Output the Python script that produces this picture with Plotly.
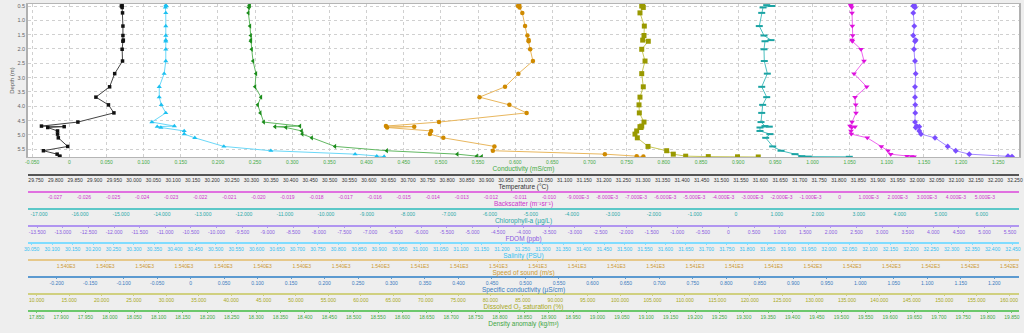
import plotly.graph_objects as go

# ---------------- data ----------------
DEPTH_M = [0.47, 0.50, 0.55, 0.74, 1.20, 1.53, 1.69, 1.73, 2.01, 2.42, 2.86, 3.32, 3.68,
           3.95, 4.23, 4.55, 4.69, 4.71, 4.74, 4.86, 4.97, 5.10, 5.40, 5.55, 5.67, 5.74]
BOTTOM_DEPTH_M = [5.755, 5.762, 5.768]

TEMPERATURE_C = [29.970, 29.968, 29.970, 29.971, 29.972, 29.972, 29.973, 29.972, 29.970, 29.971,
                 29.951, 29.938, 29.903, 29.935, 29.949, 29.857, 29.764, 29.822, 29.780, 29.805,
                 29.805, 29.807, 29.831, 29.769, 29.804, 29.811]
TEMPERATURE_BOTTOM = [29.810]

SALINITY_PSU = [30.378, 30.379, 30.377, 30.378, 30.378, 30.378, 30.378, 30.378, 30.378, 30.378,
                30.374, 30.362, 30.362, 30.367, 30.378, 30.344, 30.399, 30.357, 30.366, 30.423,
                30.423, 30.449, 30.520, 30.635, 30.841, 30.894]
SALINITY_BOTTOM = [30.912]

CONDUCTIVITY_MS_CM = [0.2422, 0.2427, 0.2414, 0.2409, 0.2431, 0.2441, 0.2445, 0.2441, 0.2454, 0.2472,
                      0.2512, 0.2499, 0.2579, 0.2535, 0.2570, 0.2616, 0.3104, 0.2768, 0.2916, 0.3127,
                      0.3135, 0.3262, 0.3575, 0.4271, 0.5221, 0.5482]
CONDUCTIVITY_BOTTOM = [0.5549]

SPEED_OF_SOUND = [1540.753, 1540.750, 1540.754, 1540.761, 1540.768, 1540.774, 1540.777, 1540.777,
                  1540.781, 1540.788, 1540.751, 1540.717, 1540.652, 1540.728, 1540.772, 1540.549,
                  1540.414, 1540.486, 1540.417, 1540.529, 1540.526, 1540.560, 1540.690, 1540.686,
                  1540.971, 1541.052]
SPEED_BOTTOM = [1541.069]

DO_SATURATION = [103.49, 103.34, 103.58, 103.07, 103.74, 103.69, 103.49, 104.35, 103.34, 103.85,
                 103.34, 103.58, 103.07, 102.92, 102.97, 103.69, 103.34, 103.07, 103.23, 102.56,
                 102.30, 102.66, 104.31, 107.19, 108.21, 110.12]
DO_BOTTOM = [113.61, 118.12, 121.32]

CHLOROPHYLL = [0.754, 0.876, 0.664, 0.632, 0.573, 0.688, 0.859, 0.712, 0.688, 0.695,
               0.769, 0.632, 0.754, 0.656, 0.632, 0.615, 0.712, 0.817, 0.590, 0.590,
               0.834, 0.729, 0.900, 1.103, 1.444, 1.608]
CHLOROPHYLL_BOTTOM = [1.769, 2.769]

BACKSCATTER = [0.000382, 0.000392, 0.000416, 0.000427, 0.000437, 0.000451, 0.000427, 0.000437,
               0.000736, 0.000840, 0.000496, 0.000933, 0.000530, 0.000554, 0.000564, 0.000427,
               0.000358, 0.000530, 0.000416, 0.000392, 0.000403, 0.000953, 0.001435, 0.001666,
               0.001758, 0.002319]
BACKSCATTER_BOTTOM = [0.002481, 0.002560]

FDOM_PPB = [3.629, 3.609, 3.643, 3.609, 3.629, 3.609, 3.656, 3.643, 3.623, 3.643,
            3.656, 3.643, 3.643, 3.648, 3.648, 3.643, 3.676, 3.727, 3.656, 3.727,
            3.760, 4.033, 4.281, 4.438, 4.703, 5.459]
FDOM_BOTTOM = [5.537]

# tick specs: (first tick in integer steps, number of ticks, step)
COND_TICKS = (-1, 27, 0.05)
TEMP_TICKS = (595, 51, 0.05)
BACK_TICKS = (-27, 34, 0.001)
CHL_TICKS = (-17, 24, 1.0)
FDOM_TICKS = (-27, 39, 0.5)
SAL_TICKS = (601, 49, 0.05)
SOS_TICKS = (15396, 25, 0.1)
SPC_TICKS = (-4, 29, 0.05)
DO_TICKS = (2, 31, 5.0)
DENS_TICKS = (357, 41, 0.05)

# axis ranges (value at left / right edge of the plot area)
COND_RANGE = [-0.0556, 1.2779]
TEMP_RANGE = [29.7296, 32.2602]
BACK_RANGE = [-0.027928, 0.006173]
CHL_RANGE = [-17.268, 6.909]
FDOM_RANGE = [-13.682, 5.674]
SAL_RANGE = [30.0410, 32.4647]
SOS_RANGE = [1539.5033, 1542.0247]
SPC_RANGE = [-0.2428, 1.2370]
DO_RANGE = [8.658, 161.543]
DENS_RANGE = [17.8322, 19.8644]
DEPTH_RANGE = [5.769, 0.430]


def tick_vals(spec):
    i0, n, step = spec
    return [round((i0 + k) * step, 6) for k in range(n)]


def fmt3(v):
    return "0" if abs(v) < 1e-12 else f"{v:.3f}"


def fmt_back(v):
    if abs(v) < 1e-12:
        return "0"
    if abs(v) >= 0.0099999:
        return f"{v:.3f}"
    return f"{v * 1000:.3f}E-3"


def fmt_sos(spec):
    i0, n, _ = spec
    return [f"{((i0 + k + 5) // 10) / 1000:.3f}E3" for k in range(n)]


# ---------------- layout geometry ----------------
W, H = 1024, 333
ML, MR, MT, MB = 28, 5, 4, 0
PLOT_BOTTOM_PX = 157
PAPER_H = H - MT - MB


def frac(py):
    return (H - py) / PAPER_H


FONT = "Liberation Sans, Arial, sans-serif"
TICK_SIZE = 5
TITLE_SIZE = 6.5

fig = go.Figure()

series = [
    ("Temperature", TEMPERATURE_C, TEMPERATURE_BOTTOM, "x2", "square", 3.5, "#111111", "#444444"),
    ("Salinity", SALINITY_PSU, SALINITY_BOTTOM, "x6", "triangle-up", 4.5, "#1cc0f0", "#6ad8f8"),
    ("Conductivity", CONDUCTIVITY_MS_CM, CONDUCTIVITY_BOTTOM, "x", "triangle-left", 4.5, "#1a8c1a", "#62b862"),
    ("Speed of sound", SPEED_OF_SOUND, SPEED_BOTTOM, "x7", "circle", 4.5, "#cf8a00", "#e9b75e"),
    ("Dissolved O2 saturation", DO_SATURATION, DO_BOTTOM, "x9", "square", 5, "#999900", "#c8c85a"),
    ("Chlorophyll-a", CHLOROPHYLL, CHLOROPHYLL_BOTTOM, "x4", "line-ew", 5, "#1aa3a3", "#4cc0c0"),
    ("Backscatter", BACKSCATTER, BACKSCATTER_BOTTOM, "x3", "triangle-down", 5, "#dd11dd", "#ee66ee"),
    ("FDOM", FDOM_PPB, FDOM_BOTTOM, "x5", "diamond", 4.5, "#7a4dff", "#a68cff"),
]

for name, vals, bottom, xa, sym, size, mcol, lcol in series:
    xs = list(vals) + list(bottom)
    ys = list(DEPTH_M) + BOTTOM_DEPTH_M[:len(bottom)]
    marker = dict(symbol=sym, size=size, color=mcol, line=dict(width=0))
    if sym == "line-ew":
        marker = dict(symbol=sym, size=size, color=mcol, line=dict(width=2, color=mcol))
    fig.add_trace(go.Scatter(x=xs, y=ys, xaxis=xa, yaxis="y", mode="lines+markers",
                             name=name, line=dict(color=lcol, width=1), marker=marker,
                             showlegend=False))

# placeholder traces so the two axes without a drawn series are still created
for xa in ("x8", "x10"):
    fig.add_trace(go.Scatter(x=[None], y=[None], xaxis=xa, yaxis="y", mode="markers",
                             showlegend=False, hoverinfo="skip"))

AXIS_ROWS_PX = [174.5 + 17.1 * k for k in range(9)]

free_axes = [
    ("xaxis2", "Temperature (°C)", TEMP_RANGE, tick_vals(TEMP_TICKS),
     [fmt3(v) for v in tick_vals(TEMP_TICKS)], "#555555", "#333333"),
    ("xaxis3", "Backscatter (m⁻¹sr⁻¹)", BACK_RANGE, tick_vals(BACK_TICKS),
     [fmt_back(v) for v in tick_vals(BACK_TICKS)], "#e070e0", "#cc33cc"),
    ("xaxis4", "Chlorophyll-a (µg/L)", CHL_RANGE, tick_vals(CHL_TICKS),
     [fmt3(v) for v in tick_vals(CHL_TICKS)], "#5cc8c8", "#2aa8a8"),
    ("xaxis5", "FDOM (ppb)", FDOM_RANGE, tick_vals(FDOM_TICKS),
     [fmt3(v) for v in tick_vals(FDOM_TICKS)], "#b095f0", "#8a5ce0"),
    ("xaxis6", "Salinity (PSU)", SAL_RANGE, tick_vals(SAL_TICKS),
     [fmt3(v) for v in tick_vals(SAL_TICKS)], "#80dcff", "#33c0f0"),
    ("xaxis7", "Speed of sound (m/s)", SOS_RANGE, tick_vals(SOS_TICKS),
     fmt_sos(SOS_TICKS), "#e6c88a", "#cc9933"),
    ("xaxis8", "Specific conductivity (µS/cm)", SPC_RANGE, tick_vals(SPC_TICKS),
     [fmt3(v) for v in tick_vals(SPC_TICKS)], "#5c9ad0", "#3a7bbf"),
    ("xaxis9", "Dissolved O₂ saturation (%)", DO_RANGE, tick_vals(DO_TICKS),
     [fmt3(v) for v in tick_vals(DO_TICKS)], "#d0d080", "#a8a822"),
    ("xaxis10", "Density anomaly (kg/m³)", DENS_RANGE, tick_vals(DENS_TICKS),
     [fmt3(v) for v in tick_vals(DENS_TICKS)], "#6cc86c", "#3fa63f"),
]

layout_axes = {}
for (key, title, rng, tv, tt, lc, tc), row in zip(free_axes, AXIS_ROWS_PX):
    layout_axes[key] = dict(
        overlaying="x", anchor="free", position=frac(row), side="bottom",
        domain=[0, 1], range=rng, tickmode="array", tickvals=tv, ticktext=tt,
        showline=True, linecolor=lc, linewidth=1.5,
        ticks="outside", ticklen=1, tickwidth=1, tickcolor=lc,
        tickfont=dict(family=FONT, size=TICK_SIZE, color=tc), tickangle=0,
        showgrid=False, zeroline=False, automargin=False,
        title=dict(text=title, font=dict(family=FONT, size=TITLE_SIZE, color=tc), standoff=0),
    )

cond_vals = tick_vals(COND_TICKS)
fig.update_layout(
    width=W, height=H, template="none",
    margin=dict(l=ML, r=MR, t=MT, b=MB, pad=0),
    paper_bgcolor="#eeeeee", plot_bgcolor="#ffffff",
    font=dict(family=FONT),
    xaxis=dict(
        domain=[0, 1], anchor="y", range=COND_RANGE, tickmode="array",
        tickvals=cond_vals, ticktext=[fmt3(v) for v in cond_vals],
        showline=True, mirror=True, linecolor="#b5b5b5", linewidth=1,
        ticks="", tickfont=dict(family=FONT, size=TICK_SIZE, color="#44aa44"), tickangle=0,
        showgrid=True, gridcolor="#d0d0d0", griddash="dot", gridwidth=1,
        zeroline=False, automargin=False,
        title=dict(text="Conductivity (mS/cm)", font=dict(family=FONT, size=TITLE_SIZE, color="#44aa44"),
                   standoff=1),
    ),
    yaxis=dict(
        domain=[frac(PLOT_BOTTOM_PX), 1.0], anchor="x", range=DEPTH_RANGE,
        tickmode="array", tickvals=[0.5 * k for k in range(1, 12)],
        ticktext=[f"{0.5 * k:.1f}" for k in range(1, 12)],
        showline=True, mirror=True, linecolor="#b0b0b0", linewidth=1.5,
        ticks="", tickfont=dict(family=FONT, size=5.5, color="#666666"),
        showgrid=True, gridcolor="#d0d0d0", griddash="dot", gridwidth=1,
        zeroline=False, automargin=False,
        title=dict(text="Depth (m)", font=dict(family=FONT, size=6, color="#555555"), standoff=2),
    ),
    **layout_axes,
)

fig.write_html("out.html")
